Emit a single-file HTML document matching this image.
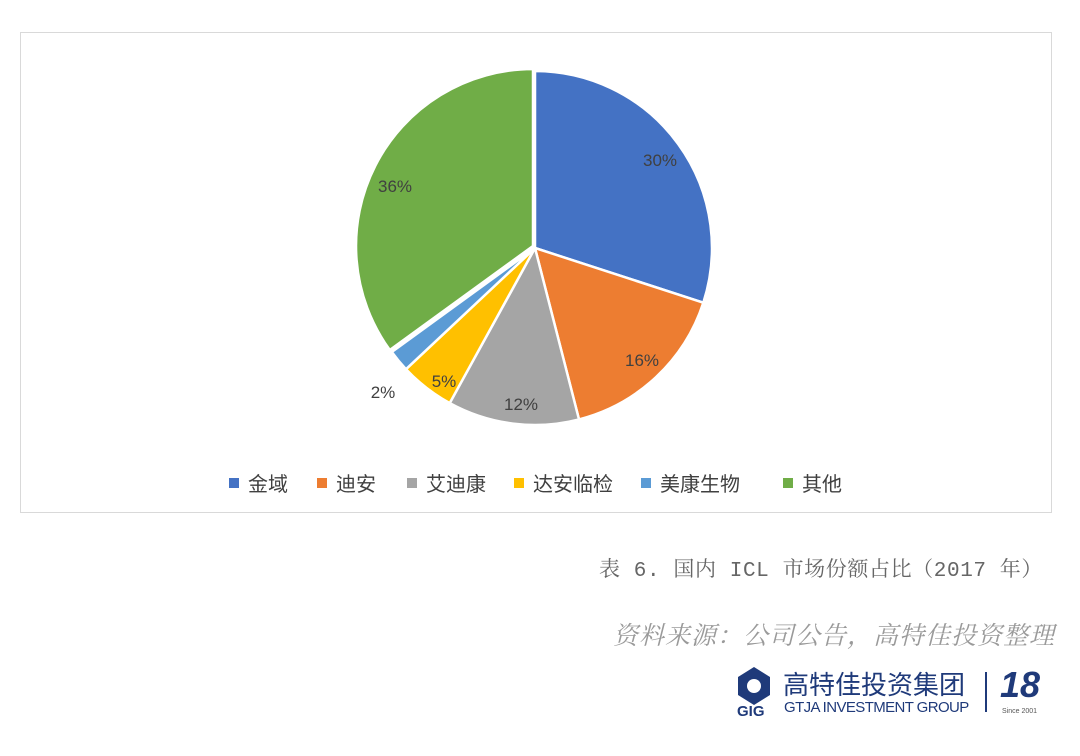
<!DOCTYPE html>
<html><head><meta charset="utf-8"><style>
body{margin:0;width:1080px;height:756px;background:#fff;position:relative;overflow:hidden;font-family:"Liberation Sans","Noto Sans CJK SC",sans-serif}
.frame{position:absolute;left:20px;top:32px;width:1030px;height:479px;border:1.5px solid #d9d9d9}
.lg{position:absolute;top:468px;font-size:20px;color:#404040;white-space:nowrap}
.sq{position:absolute;top:478px;width:10px;height:10px}
.t{position:absolute;white-space:nowrap}
</style></head><body>
<div class="frame"></div>
<svg width="1080" height="756" style="position:absolute;left:0;top:0">
<g stroke="#fff" stroke-width="2.5" stroke-linejoin="round">
<path d="M535,248 L535,71 A177,177 0 0 1 703.3,302.7 Z" fill="#4472c4"/>
<path d="M535,248 L703.3,302.7 A177,177 0 0 1 579,419.4 Z" fill="#ed7d31"/>
<path d="M535,248 L579,419.4 A177,177 0 0 1 449.7,403.1 Z" fill="#a5a5a5"/>
<path d="M535,248 L449.7,403.1 A177,177 0 0 1 406,369.2 Z" fill="#ffc000"/>
<path d="M535,248 L406,369.2 A177,177 0 0 1 391.8,352 Z" fill="#5b9bd5"/>
<path d="M533,246 L389.8,350 A177,177 0 0 1 533,69 Z" fill="#70ad47"/>
</g>
<g font-family="Liberation Sans" font-size="17" fill="#404040" text-anchor="middle">
<text x="660" y="166">30%</text>
<text x="642" y="366">16%</text>
<text x="521" y="410">12%</text>
<text x="444" y="387">5%</text>
<text x="383" y="398">2%</text>
<text x="395" y="192">36%</text>
</g>
</svg>
<div class="sq" style="left:229px;background:#4472c4"></div><div class="lg" style="left:248px">金域</div>
<div class="sq" style="left:317px;background:#ed7d31"></div><div class="lg" style="left:336px">迪安</div>
<div class="sq" style="left:407px;background:#a5a5a5"></div><div class="lg" style="left:426px">艾迪康</div>
<div class="sq" style="left:514px;background:#ffc000"></div><div class="lg" style="left:533px">达安临检</div>
<div class="sq" style="left:641px;background:#5b9bd5"></div><div class="lg" style="left:660px">美康生物</div>
<div class="sq" style="left:783px;background:#70ad47"></div><div class="lg" style="left:802px">其他</div>
<div class="t" style="right:37px;top:553px;font-family:'Liberation Mono','Noto Serif CJK SC',monospace;font-size:21px;color:#666;letter-spacing:0.6px">表 6. 国内 ICL 市场份额占比（2017 年）</div>
<div class="t" style="right:25px;top:616px;font-size:25px;color:#9a9a9a;font-style:italic;font-family:'Liberation Serif','Noto Serif CJK SC',serif;letter-spacing:1px">资料来源：公司公告，高特佳投资整理</div>
<svg width="40" height="50" style="position:absolute;left:734px;top:665px"><polygon points="20,2 36,12 36,30 20,40 4,30 4,12" fill="#1f3a7a"/><circle cx="20" cy="21" r="7" fill="#fff"/></svg>
<div class="t" style="left:737px;top:703px;font-size:15px;font-weight:bold;color:#1f3a7a">GIG</div>
<div class="t" style="left:783px;top:665px;font-size:26px;color:#1f3a7a">高特佳投资集团</div>
<div class="t" style="left:784px;top:699px;font-size:15px;color:#1f3a7a;letter-spacing:-0.6px">GTJA INVESTMENT GROUP</div>
<div style="position:absolute;left:985px;top:672px;width:2px;height:40px;background:#1f3a7a"></div>
<div class="t" style="left:1000px;top:664px;font-size:36px;font-style:italic;font-weight:bold;color:#1f3a7a">18</div>
<div class="t" style="left:1002px;top:708px;font-size:7px;color:#555">Since 2001</div>
</body></html>
